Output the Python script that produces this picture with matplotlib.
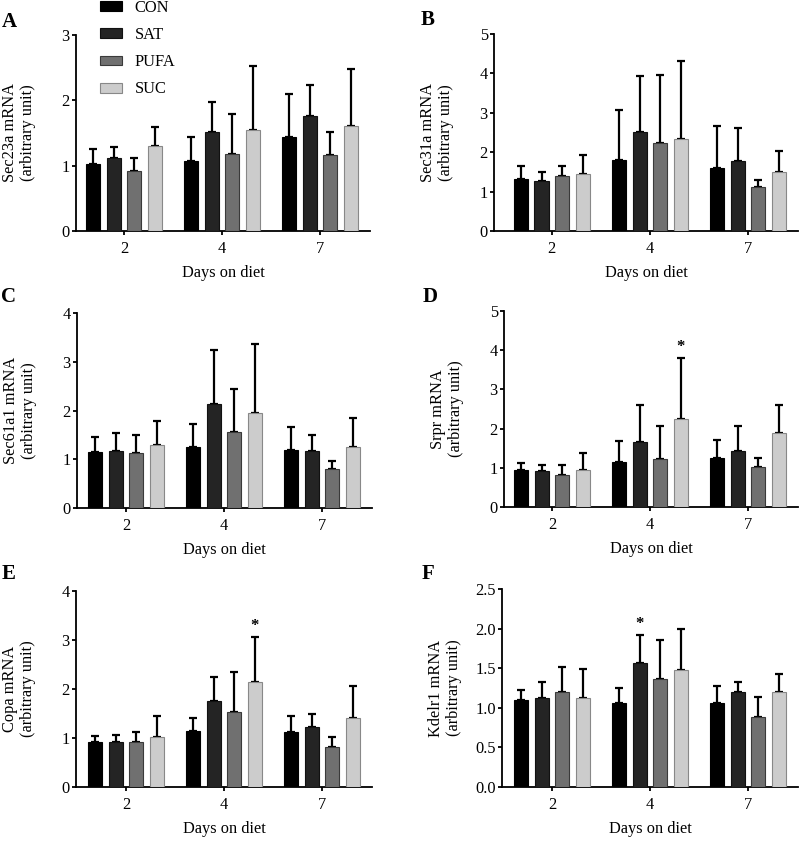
import matplotlib
matplotlib.use("Agg")
import matplotlib.pyplot as plt
from matplotlib.patches import Patch
from matplotlib.ticker import FormatStrFormatter
import numpy as np

plt.rcParams['font.family'] = ['Liberation Serif', 'DejaVu Serif']

days = ["2", "4", "7"]
groups = ["CON", "SAT", "PUFA", "SUC"]
fill_colors = ["#000000", "#242424", "#707070", "#cccccc"]
edge_colors = ["#000000", "#111111", "#3a3a3a", "#888888"]

# Panel A: Sec23a
sec23a_mean = {"CON": [1.02, 1.07, 1.44], "SAT": [1.12, 1.51, 1.76],
               "PUFA": [0.925, 1.18, 1.17], "SUC": [1.30, 1.55, 1.61]}
sec23a_err = {"CON": [0.23, 0.37, 0.66], "SAT": [0.17, 0.46, 0.48],
              "PUFA": [0.195, 0.61, 0.34], "SUC": [0.29, 0.97, 0.87]}
# Panel B: Sec31a
sec31a_mean = {"CON": [1.31, 1.79, 1.61], "SAT": [1.28, 2.51, 1.77],
               "PUFA": [1.39, 2.24, 1.11], "SUC": [1.44, 2.33, 1.49]}
sec31a_err = {"CON": [0.34, 1.28, 1.06], "SAT": [0.22, 1.43, 0.85],
              "PUFA": [0.26, 1.72, 0.19], "SUC": [0.50, 1.98, 0.55]}
# Panel C: Sec61a1
sec61a1_mean = {"CON": [1.14, 1.25, 1.18], "SAT": [1.17, 2.14, 1.17],
                "PUFA": [1.13, 1.55, 0.80], "SUC": [1.29, 1.94, 1.26]}
sec61a1_err = {"CON": [0.31, 0.48, 0.49], "SAT": [0.37, 1.10, 0.33],
               "PUFA": [0.36, 0.90, 0.17], "SUC": [0.49, 1.42, 0.59]}
# Panel D: Srpr
srpr_mean = {"CON": [0.95, 1.14, 1.25], "SAT": [0.92, 1.67, 1.44],
             "PUFA": [0.82, 1.23, 1.02], "SUC": [0.94, 2.24, 1.89]}
srpr_err = {"CON": [0.18, 0.55, 0.46], "SAT": [0.15, 0.94, 0.63],
            "PUFA": [0.25, 0.84, 0.24], "SUC": [0.43, 1.57, 0.70]}
# Panel E: Copa
copa_mean = {"CON": [0.91, 1.15, 1.13], "SAT": [0.92, 1.75, 1.22],
             "PUFA": [0.91, 1.53, 0.81], "SUC": [1.03, 2.14, 1.41]}
copa_err = {"CON": [0.14, 0.26, 0.32], "SAT": [0.15, 0.50, 0.27],
            "PUFA": [0.22, 0.81, 0.22], "SUC": [0.41, 0.92, 0.65]}
# Panel F: Kdelr1
kdelr1_mean = {"CON": [1.10, 1.06, 1.06], "SAT": [1.12, 1.56, 1.20],
               "PUFA": [1.20, 1.36, 0.88], "SUC": [1.13, 1.48, 1.20]}
kdelr1_err = {"CON": [0.13, 0.19, 0.21], "SAT": [0.21, 0.36, 0.13],
              "PUFA": [0.32, 0.49, 0.26], "SUC": [0.36, 0.52, 0.23]}

panels = [
    # letter, ylabel, means, errs, ymax, ystep, fmt, star(group, dayidx), px box (l, r, top, bottom), xlim left, letter pos
    ("A", "Sec23a mRNA", sec23a_mean, sec23a_err, 3, 1, "%d", None, (76, 370, 35, 231), -0.49, (9, 22)),
    ("B", "Sec31a mRNA", sec31a_mean, sec31a_err, 5, 1, "%d", None, (494, 798, 34, 231), -0.59, (428, 20)),
    ("C", "Sec61a1 mRNA", sec61a1_mean, sec61a1_err, 4, 1, "%d", None, (77, 372, 313, 508), -0.50, (9, 297)),
    ("D", "Srpr mRNA", srpr_mean, srpr_err, 5, 1, "%d", ("SUC", 1), (504, 798, 311, 507), -0.49, (430, 297)),
    ("E", "Copa mRNA", copa_mean, copa_err, 4, 1, "%d", ("SUC", 1), (76, 372, 591, 787), -0.51, (9, 574)),
    ("F", "Kdelr1 mRNA", kdelr1_mean, kdelr1_err, 2.5, 0.5, "%.1f", ("SAT", 1), (502, 798, 589, 787), -0.51, (428, 574)),
]

W, H = 800, 841
fig = plt.figure(figsize=(W / 100, H / 100), dpi=100)

pitch = 0.21
width = 0.145
offsets = (np.arange(len(groups)) - 1.5) * pitch
xc = np.arange(len(days))

for letter, ylab, means, errs, ymax, ystep, fmt, star, box, xl, lpos in panels:
    l, r, t, b = box
    ax = fig.add_axes([l / W, 1 - b / H, (r - l) / W, (b - t) / H])
    for gi, g in enumerate(groups):
        x = xc + offsets[gi]
        m = np.array(means[g])
        e = np.array(errs[g])
        ax.errorbar(x, m, yerr=[np.zeros_like(e), e], fmt='none', ecolor='black',
                    elinewidth=1.6, capsize=2.6, capthick=1.6, zorder=2)
        ax.bar(x, m, width=width, color=fill_colors[gi], edgecolor=edge_colors[gi],
               linewidth=0.8, zorder=3)
    if star is not None:
        g, di = star
        gi = groups.index(g)
        top = means[g][di] + errs[g][di]
        ax.annotate("*", xy=(xc[di] + offsets[gi], top), xytext=(0, 2),
                    textcoords="offset points", ha="center", va="bottom",
                    fontsize=12, fontweight="bold")
    ax.set_xlim(xl, 2.51)
    ax.set_ylim(0, ymax)
    ax.set_yticks(np.arange(0, ymax + 1e-9, ystep))
    ax.yaxis.set_major_formatter(FormatStrFormatter(fmt))
    ax.set_xticks(xc)
    ax.set_xticklabels(days)
    for s in ["top", "right"]:
        ax.spines[s].set_visible(False)
    for s in ["left", "bottom"]:
        ax.spines[s].set_linewidth(1.3)
    ax.tick_params(axis="both", direction="out", length=3, width=1.3, labelsize=11.8)
    ax.tick_params(axis="x", pad=4)
    ax.tick_params(axis="y", pad=1.5)
    ax.set_xlabel("Days on diet", fontsize=11.8, labelpad=6)
    ax.set_ylabel(ylab + "\n(arbitrary unit)", fontsize=11.8, va="center", linespacing=1.1)
    ax.yaxis.set_label_coords(-57 / (r - l), 0.5)
    fig.text(lpos[0] / W, 1 - lpos[1] / H, letter, fontsize=15, fontweight="bold",
             ha="center", va="center")

handles = [Patch(facecolor=fill_colors[i], edgecolor=edge_colors[i], linewidth=0.8)
           for i in range(len(groups))]
fig.legend(handles, groups, loc="upper left", bbox_to_anchor=(100 / W, 1 - 0 / H),
           frameon=False, fontsize=11.8, handlelength=1.35, handleheight=0.55,
           handletextpad=0.75, labelspacing=0.68, borderpad=0.0, borderaxespad=0.0)

fig.savefig("out.png", dpi=100)
